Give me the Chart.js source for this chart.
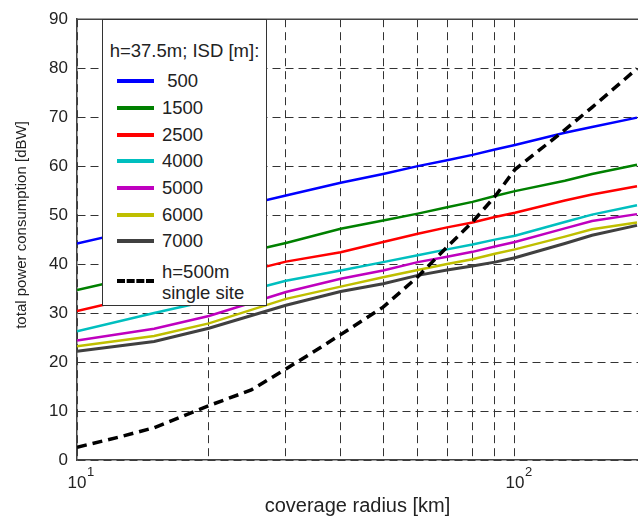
<!DOCTYPE html>
<html lang="en">
  <head>
    <meta charset="UTF-8" />
    <title>total power consumption</title>
    <script src="https://cdn.jsdelivr.net/npm/chart.js"></script>
    <style>
      body { margin: 0; background: #fff; }
      .chart-box { position: relative; width: 638px; height: 516px; }
      #legend {
        position: absolute; left: 102px; top: 19px; width: 163px; height: 285px;
        border: 1px solid #333; background: #fff;
        font-family: "Liberation Sans", Arial, sans-serif; color: #222;
      }
      #legend .title { position: absolute; left: 0; width: 100%; top: 31px; text-align: center; font-size: 18.5px; line-height: 20px; transform: translateY(-50%); white-space: nowrap; }
      #legend .row { position: absolute; left: 14px; height: 22px; transform: translateY(-50%); }
      #legend .swatch { position: absolute; left: 0; top: 9px; width: 37px; height: 0; border-top: 4px solid; }
      #legend .label { position: absolute; left: 45px; top: 0; font-size: 18.5px; line-height: 22px; white-space: pre; }
    </style>
  </head>
  <body>
    <div class="chart-box">
      <canvas id="myChart" width="638" height="516"></canvas>
      <div id="legend"></div>
    </div>
    <script>
      // coverage radius [km]
      const radius = [10, 15, 20, 30, 40, 50, 60, 70, 80, 90, 100, 130, 150, 190];
      const isd500 = [44.2, 47.8, 50.3, 54.0, 56.6, 58.4, 60.0, 61.2, 62.3, 63.4, 64.3, 66.8, 68.0, 69.9];
      const isd1500 = [34.7, 38.3, 40.7, 44.3, 47.2, 48.9, 50.3, 51.6, 52.7, 53.9, 54.9, 57.0, 58.4, 60.3];
      const isd2500 = [30.4, 34.1, 36.6, 40.5, 42.4, 44.5, 46.2, 47.5, 48.5, 49.6, 50.5, 53.0, 54.2, 55.9];
      const isd4000 = [26.3, 30.0, 32.5, 36.6, 38.7, 40.4, 41.8, 43.0, 44.0, 45.0, 45.8, 48.6, 50.1, 52.0];
      const isd5000 = [24.4, 26.8, 29.4, 34.3, 37.0, 38.7, 40.4, 41.5, 42.5, 43.6, 44.5, 47.3, 48.8, 50.2];
      const isd6000 = [23.2, 25.3, 27.9, 32.9, 35.4, 37.3, 38.8, 40.0, 41.0, 42.1, 43.0, 45.6, 47.1, 48.5];
      const isd7000 = [22.2, 24.2, 26.9, 31.6, 34.4, 36.0, 37.7, 38.8, 39.6, 40.4, 41.3, 44.2, 45.9, 47.9];
      // h=500m single site
      const singleRadius = [10, 12.5, 15, 20, 25, 30, 35, 40, 50, 60, 70, 80, 90, 100, 130, 150, 190];
      const singleSite = [2.6, 4.7, 6.6, 11.1, 14.3, 18.6, 22.3, 25.6, 31.2, 37.4, 43.5, 48.6, 53.8, 59.3, 67.4, 72.0, 79.9];

      const seriesLabels = [" 500", "1500", "2500", "4000", "5000", "6000", "7000"];
      const seriesData = [isd500, isd1500, isd2500, isd4000, isd5000, isd6000, isd7000];
      const seriesColors = ["#0000ff", "#008000", "#ff0000", "#00bfbf", "#bf00bf", "#bfbf00", "#404040"];
      const legendTitle = "h=37.5m; ISD [m]:";
      const singleLabel = "h=500m\nsingle site";

      const xGridTicks = [10, 20, 30, 40, 50, 60, 70, 80, 90, 100];
      // decade labels: base and exponent
      const xDecades = [10, 100];
      const xDecadeExp = ["1", "2"];
      const xTitle = "coverage radius [km]";
      const yTitle = "total power consumption [dBW]";

      const fontFamily = '"Liberation Sans", Arial, sans-serif';

      const datasets = [
        {
          label: singleLabel,
          data: singleRadius.map((r, i) => ({ x: r, y: singleSite[i] })),
          borderColor: "#000",
          borderWidth: 3.5,
          borderDash: [10, 6],
          pointRadius: 0,
          order: 0,
        },
      ];
      seriesData.forEach(function (vals, i) {
        datasets.push({
          label: seriesLabels[i],
          data: radius.map((r, j) => ({ x: r, y: vals[j] })),
          borderColor: seriesColors[i],
          borderWidth: i === 6 ? 3 : 2.5,
          pointRadius: 0,
          order: 7 - i,
        });
      });

      // top frame line, decade tick labels with superscripts, y title
      const extras = {
        id: "extras",
        afterDraw(chart) {
          const a = chart.chartArea;
          const c = chart.ctx;
          const xs = chart.scales.x;
          c.save();
          c.strokeStyle = "#444";
          c.lineWidth = 1.5;
          c.beginPath();
          c.moveTo(a.left, a.top);
          c.lineTo(a.right, a.top);
          c.stroke();

          c.fillStyle = "#222";
          c.textBaseline = "middle";
          xDecades.forEach(function (v, i) {
            const px = xs.getPixelForValue(v);
            c.font = "17px " + fontFamily;
            c.textAlign = "center";
            c.fillText("10", px, 483);
            c.font = "13px " + fontFamily;
            c.textAlign = "left";
            c.fillText(xDecadeExp[i], px + 10, 472);
          });

          c.translate(22, 225);
          c.rotate(-Math.PI / 2);
          c.font = "15px " + fontFamily;
          c.textAlign = "center";
          c.fillText(yTitle, 0, 0);
          c.restore();
        },
      };

      new Chart(document.getElementById("myChart"), {
        type: "line",
        data: { datasets: datasets },
        options: {
          responsive: false,
          animation: false,
          layout: { padding: { top: 15, right: 0, left: 0, bottom: 0 } },
          plugins: { legend: { display: false }, tooltip: { enabled: false } },
          scales: {
            x: {
              type: "logarithmic",
              min: 10,
              max: 191,
              afterBuildTicks: function (scale) {
                scale.ticks = xGridTicks.map((v) => ({ value: v }));
              },
              afterFit: function (scale) {
                scale.height = 56;
              },
              ticks: {
                autoSkip: false,
                maxRotation: 0,
                callback: function () {
                  return "";
                },
              },
              grid: { color: "#333", lineWidth: 1, drawTicks: false },
              border: { color: "#444", width: 1.5, dash: [8, 5] },
              title: {
                display: true,
                text: xTitle,
                color: "#222",
                font: { family: fontFamily, size: 20, lineHeight: 1 },
                padding: { top: 0, bottom: 0 },
              },
            },
            y: {
              min: 0,
              max: 90,
              afterFit: function (scale) {
                scale.width = 77;
              },
              ticks: {
                stepSize: 10,
                padding: 9,
                color: "#222",
                font: { family: fontFamily, size: 17 },
              },
              grid: { color: "#333", lineWidth: 1, drawTicks: false },
              border: { color: "#444", width: 1.5, dash: [8, 5] },
            },
          },
        },
        plugins: [extras],
      });

      // legend box
      const legendRows = [80, 107, 134, 160, 187, 214, 240];
      const legendEl = document.getElementById("legend");
      let html = '<div class="title">' + legendTitle + "</div>";
      seriesLabels.forEach(function (lab, i) {
        html +=
          '<div class="row" style="top:' + (legendRows[i] - 19) + 'px">' +
          '<div class="swatch" style="border-top-color:' + seriesColors[i] + '"></div>' +
          '<div class="label">' + lab + "</div></div>";
      });
      html +=
        '<div class="row" style="top:' + (260 - 19) + 'px;height:44px;transform:none">' +
        '<div class="swatch" style="top:18px;border-top:4px dashed #000;width:37px"></div>' +
        '<div class="label" style="line-height:21px">' + singleLabel + "</div></div>";
      legendEl.innerHTML = html;
    </script>
  </body>
</html>
